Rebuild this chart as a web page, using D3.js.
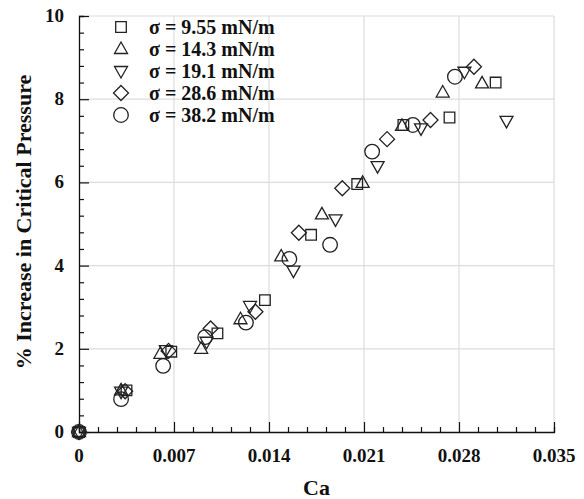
<!DOCTYPE html>
<html>
<head>
<meta charset="utf-8">
<script src="https://cdn.jsdelivr.net/npm/d3@7/dist/d3.min.js"></script>
<style>
  body { margin: 0; background: #fff; }
  text { font-family: "Liberation Serif", "Times New Roman", serif; font-weight: bold; fill: #111; }
</style>
</head>
<body>
<div id="chart"></div>
<script>
// series data (Ca, % increase)
const caSq   = [0, 0.0035, 0.0068, 0.0102, 0.0137, 0.0171, 0.0205, 0.0239, 0.0273, 0.0307];
const pSq    = [0, 1.00, 1.93, 2.37, 3.17, 4.74, 5.96, 7.38, 7.56, 8.40];
const caUp   = [0, 0.0031, 0.0060, 0.0090, 0.0119, 0.0149, 0.0179, 0.0209, 0.0238, 0.0268, 0.0297];
const pUp    = [0, 1.00, 1.88, 2.00, 2.71, 4.22, 5.23, 5.99, 7.36, 8.16, 8.38];
const caDn   = [0, 0.0031, 0.0064, 0.0094, 0.0126, 0.0158, 0.0189, 0.0220, 0.0252, 0.0284, 0.0315];
const pDn    = [0, 0.97, 1.97, 2.17, 3.03, 3.88, 5.11, 6.39, 7.30, 8.66, 7.48];
const caDia  = [0, 0.0034, 0.0066, 0.0097, 0.0130, 0.0162, 0.0194, 0.0227, 0.0259, 0.0291];
const pDia   = [0, 0.98, 1.95, 2.49, 2.89, 4.79, 5.86, 7.04, 7.50, 8.78];
const caCir  = [0, 0.0031, 0.0062, 0.0093, 0.0123, 0.0155, 0.0185, 0.0216, 0.0246, 0.0277];
const pCir   = [0, 0.79, 1.59, 2.28, 2.63, 4.16, 4.50, 6.74, 7.38, 8.54];

const seriesNames = ["σ = 9.55 mN/m", "σ = 14.3 mN/m", "σ = 19.1 mN/m", "σ = 28.6 mN/m", "σ = 38.2 mN/m"];
const seriesShapes = ["square", "up", "down", "diamond", "circle"];
const xTicks = [0, 0.007, 0.014, 0.021, 0.028, 0.035];
const yTicks = [0, 2, 4, 6, 8, 10];

const series = [
  [caSq, pSq], [caUp, pUp], [caDn, pDn], [caDia, pDia], [caCir, pCir]
].map((s, i) => ({
  name: seriesNames[i],
  shape: seriesShapes[i],
  points: s[0].map((c, j) => ({ x: c, y: s[1][j] }))
}));

const width = 584, height = 499;
const margin = { top: 16, right: 30, bottom: 67, left: 79 };

const svg = d3.select("#chart").append("svg")
  .attr("width", width)
  .attr("height", height);

const x = d3.scaleLinear().domain([0, 0.035]).range([margin.left, width - margin.right]);
const y = d3.scaleLinear().domain([0, 10]).range([height - margin.bottom, margin.top]);

// marker paths centred on 0,0
function shapePath(shape) {
  switch (shape) {
    case "square": return "M-5.3,-5.3H5.3V5.3H-5.3Z";
    case "up": return "M0,-7L6.5,4.5H-6.5Z";
    case "down": return "M0,7L6.5,-4.5H-6.5Z";
    case "diamond": return "M0,-7.5L7.5,0L0,7.5L-7.5,0Z";
    default: return "M7.3,0A7.3,7.3 0 1 1 -7.3,0A7.3,7.3 0 1 1 7.3,0Z";
  }
}

// grid
const grid = svg.append("g");
grid.selectAll(".gx").data(xTicks.slice(1)).enter().append("line")
  .attr("x1", d => x(d)).attr("x2", d => x(d))
  .attr("y1", y(0)).attr("y2", y(10))
  .attr("stroke", "#dcdcdc").attr("stroke-width", 1.2);
grid.selectAll(".gy").data(yTicks.slice(1)).enter().append("line")
  .attr("x1", x(0)).attr("x2", x(0.035))
  .attr("y1", d => y(d)).attr("y2", d => y(d))
  .attr("stroke", "#dcdcdc").attr("stroke-width", 1.2);

// axes
const xAxis = svg.append("g").attr("transform", "translate(0," + y(0) + ")");
xAxis.call(d3.axisBottom(x).tickValues(d3.range(0, 26).map(i => i * 0.0014).filter(v => v <= 0.03501))
  .tickSize(-5).tickFormat(""));
xAxis.selectAll(".tick line").filter((d, i) => i % 5 === 0).attr("y2", -10);
xAxis.select(".domain").attr("stroke", "#111").attr("stroke-width", 1.3);
xAxis.selectAll(".tick line").attr("stroke", "#111").attr("stroke-width", 1.2);

const yAxis = svg.append("g").attr("transform", "translate(" + x(0) + ",0)");
yAxis.call(d3.axisLeft(y).tickValues(d3.range(0, 26).map(i => i * 0.4))
  .tickSize(-5).tickFormat(""));
yAxis.selectAll(".tick line").filter((d, i) => i % 5 === 0).attr("x2", 10);
yAxis.select(".domain").attr("stroke", "#111").attr("stroke-width", 1.3);
yAxis.selectAll(".tick line").attr("stroke", "#111").attr("stroke-width", 1.2);

// tick labels
svg.selectAll(".xl").data(xTicks).enter().append("text")
  .attr("x", d => x(d)).attr("y", y(0) + 30)
  .attr("text-anchor", "middle").style("font-size", "19px")
  .text(d => d === 0 ? "0" : d.toFixed(3));
svg.selectAll(".yl").data(yTicks).enter().append("text")
  .attr("x", x(0) - 15).attr("y", d => y(d) + 6)
  .attr("text-anchor", "end").style("font-size", "19px")
  .text(d => d);

// axis titles
svg.append("text")
  .attr("x", (x(0) + x(0.035)) / 2).attr("y", 495)
  .attr("text-anchor", "middle").style("font-size", "22px")
  .text("Ca");
svg.append("text")
  .attr("transform", "translate(31," + 222 + ") rotate(-90)")
  .attr("text-anchor", "middle").style("font-size", "22px")
  .text("% Increase in Critical Pressure");

// data markers
series.forEach(s => {
  svg.append("g").selectAll("path").data(s.points).enter().append("path")
    .attr("d", shapePath(s.shape))
    .attr("transform", d => "translate(" + x(d.x) + "," + y(d.y) + ")")
    .attr("fill", "none")
    .attr("stroke", "#222")
    .attr("stroke-width", 1.3);
});

// legend
const legend = svg.append("g");
series.forEach((s, i) => {
  const ly = 27 + i * 22;
  legend.append("path")
    .attr("d", shapePath(s.shape))
    .attr("transform", "translate(121," + ly + ")")
    .attr("fill", "none").attr("stroke", "#222").attr("stroke-width", 1.3);
  legend.append("text")
    .attr("x", 149).attr("y", ly + 7)
    .style("font-size", "20px")
    .text(s.name);
});
</script>
</body>
</html>
